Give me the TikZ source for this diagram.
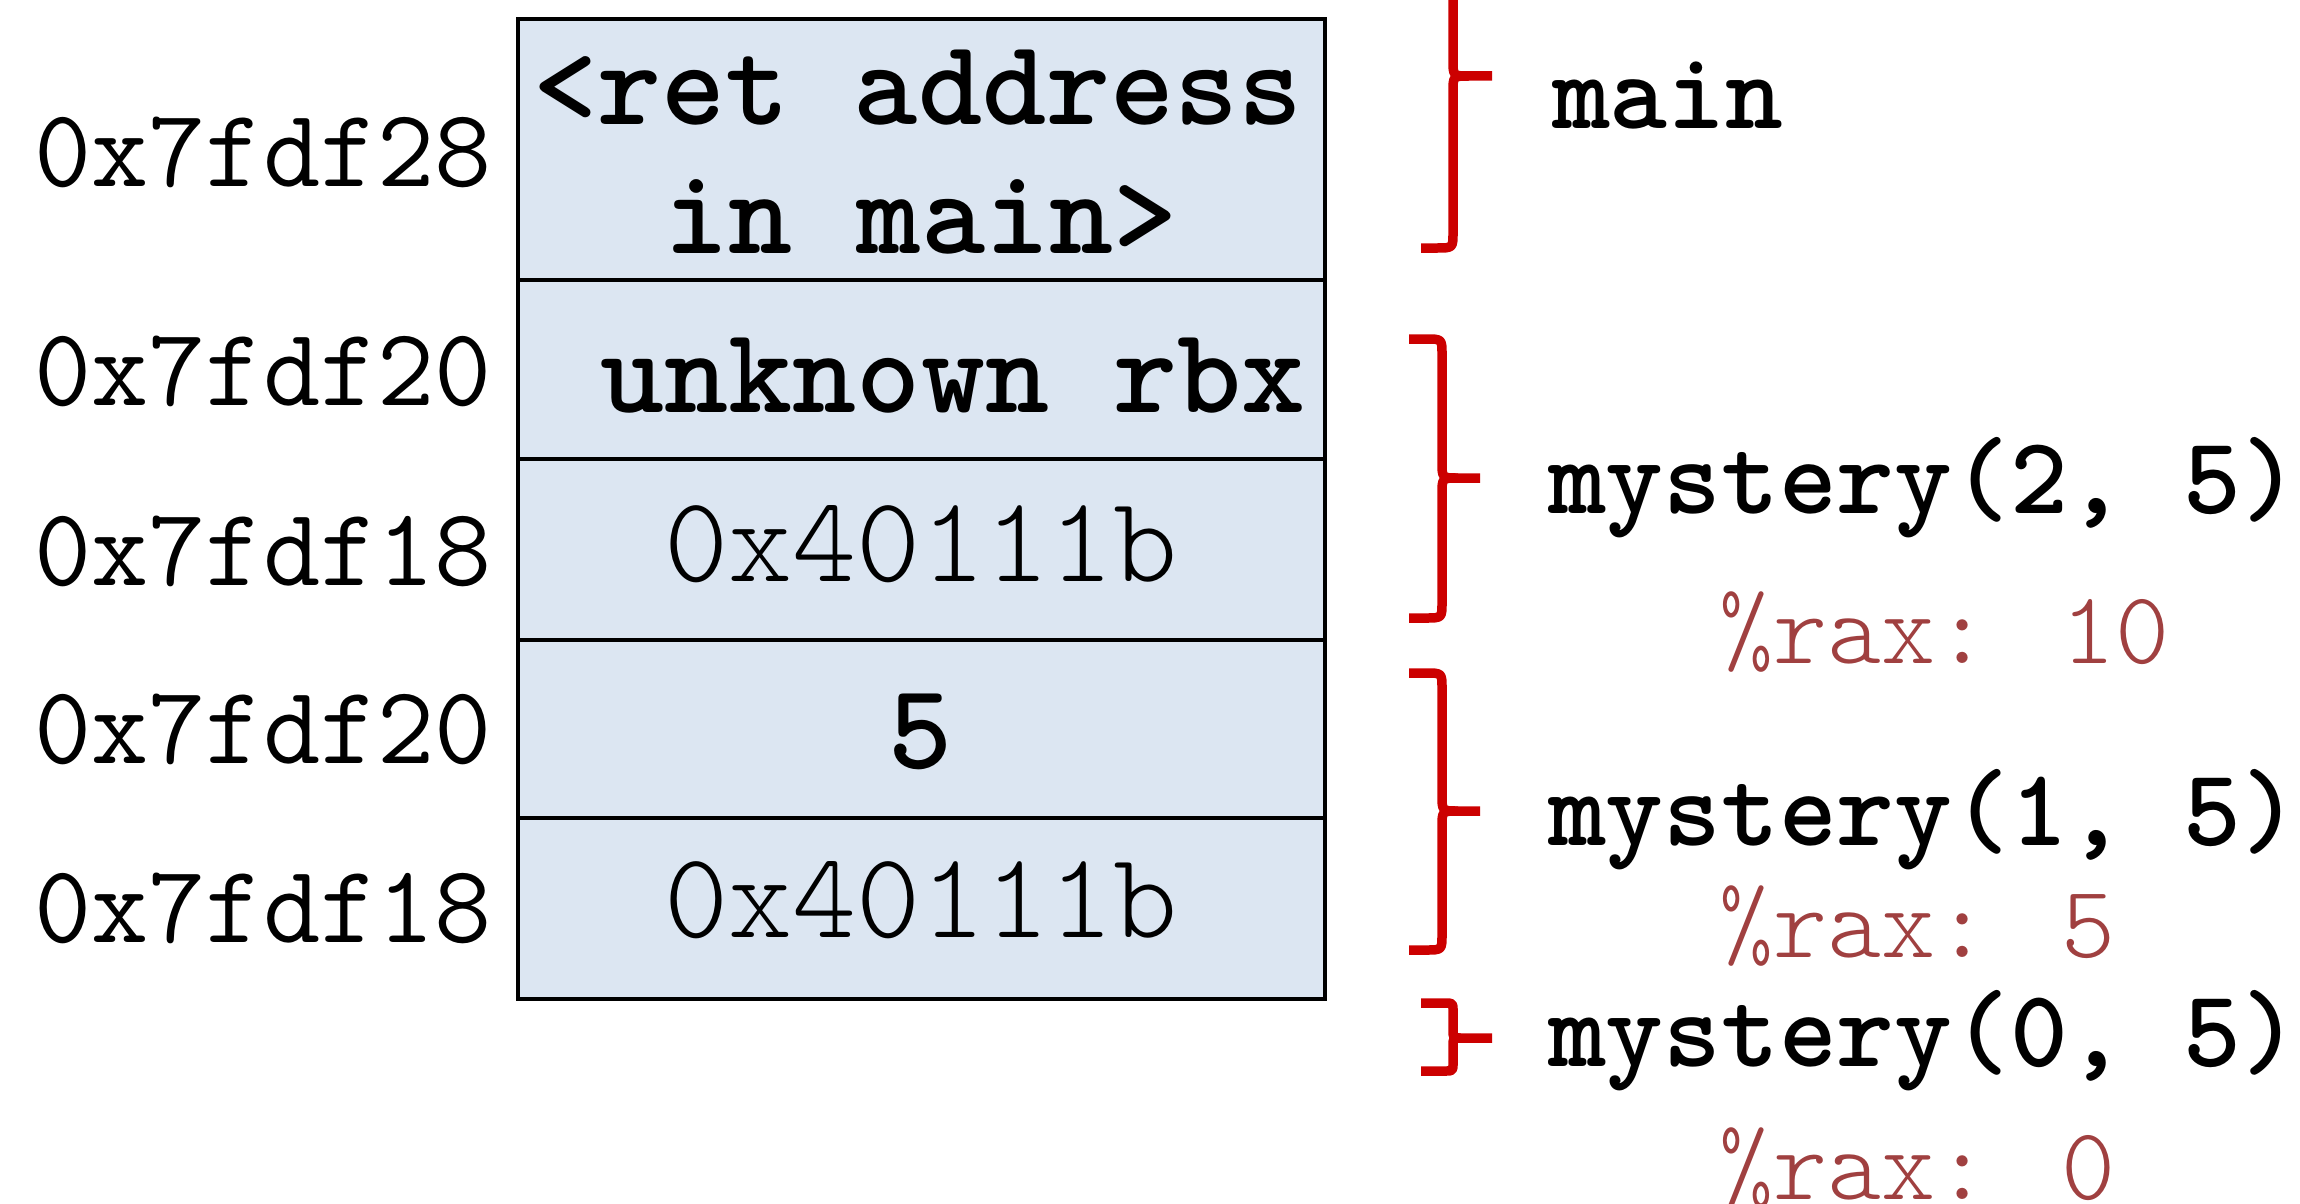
\documentclass[tikz,border=0pt]{standalone}
\usepackage{fontspec}
\definecolor{cellfill}{RGB}{220,230,242}
\definecolor{bracered}{RGB}{204,0,0}
\definecolor{raxcol}{RGB}{160,64,64}
\tikzset{
  cell/.style={draw=black, line width=4.5pt, fill=cellfill, minimum width=807pt, inner sep=0pt, outer sep=0pt},
  addr/.style={anchor=base east, inner sep=0pt, font=\ttfamily\fontsize{111}{115}\selectfont},
  celltxt/.style={anchor=base, inner sep=0pt, font=\ttfamily\bfseries\fontsize{122}{126}\selectfont},
  cellthin/.style={anchor=base, inner sep=0pt, font=\ttfamily\fontseries{l}\fontsize{122}{126}\selectfont},
  frametxt/.style={anchor=base west, inner sep=0pt, font=\ttfamily\bfseries\fontsize{110}{114}\selectfont},
  raxtxt/.style={anchor=base west, inner sep=0pt, text=raxcol, font=\ttfamily\fontseries{l}\fontsize{103}{107}\selectfont},
  bracepath/.style={draw=bracered, line width=9.5pt, line join=round}
}
% #1 V (vertical x), #2 L (left end x), #3 T (tip end x), #4 top y, #5 mid y, #6 bottom y, #7 radius
\newcommand\stackbrace[7]{%
  \draw[bracepath] (#2,#4) -- ({#1-#7},#4) .. controls (#1,#4) .. (#1,{#4+#7})
     -- (#1,{#5-#7}) .. controls (#1,#5) .. ({#1+#7},#5) -- (#3,#5);
  \draw[bracepath] ({#1+#7},#5) .. controls (#1,#5) .. (#1,{#5+#7})
     -- (#1,{#6-#7}) .. controls (#1,#6) .. ({#1-#7},#6) -- (#2,#6);
}
\begin{document}
\begin{tikzpicture}[x=1pt, y=-1pt]
\useasboundingbox (0,0) rectangle (2300,1204);
\fill[white] (0,0) rectangle (2300,1204);

% stack cells
\node[cell, minimum height=261pt] (c1) at (921.5,149.5) {};
\node[cell, minimum height=179pt] (c2) at (921.5,369.5) {};
\node[cell, minimum height=181pt] (c3) at (921.5,549.5) {};
\node[cell, minimum height=178pt] (c4) at (921.5,729) {};
\node[cell, minimum height=181pt] (c5) at (921.5,908.5) {};

% cell contents
\node[celltxt] (t1a) at (918,125) {<ret address};
\node[celltxt] (t1b) at (921,253) {in main>};
\node[celltxt] (t2) at (921,412) {\hphantom{x}unknown rbx};
\node[cellthin] (t3) at (921,581) {0x40111b};
\node[celltxt] (t4) at (921,768) {5};
\node[cellthin] (t5) at (921,937) {0x40111b};

% addresses
\node[addr] (a1) at (492,186) {0x7fdf28};
\node[addr] (a2) at (492,405) {0x7fdf20};
\node[addr] (a3) at (492,585) {0x7fdf18};
\node[addr] (a4) at (492,763) {0x7fdf20};
\node[addr] (a5) at (492,942) {0x7fdf18};

% frame labels
\node[frametxt] (fmain) at (1552,129) {main};
\node[frametxt] (f2) at (1548,513) {mystery(2, 5)};
\node[raxtxt] (r2) at (1719,663) {\%rax: 10};
\node[frametxt] (f1) at (1548,845) {mystery(1, 5)};
\node[raxtxt] (r1) at (1719,957) {\%rax: 5};
\node[frametxt] (f0) at (1548,1066) {mystery(0, 5)};
\node[raxtxt] (r0) at (1719,1199) {\%rax: 0};

% braces
\begin{scope}
\clip (0,0) rectangle (2300,1204);
\stackbrace{1453}{1421}{1492}{-96}{76}{248}{16}
\stackbrace{1442}{1409}{1480}{339}{478}{618}{16}
\stackbrace{1442}{1409}{1480}{673}{811}{950}{16}
\stackbrace{1453}{1421}{1492}{1003}{1038}{1071}{8}
\end{scope}
\end{tikzpicture}
\end{document}
